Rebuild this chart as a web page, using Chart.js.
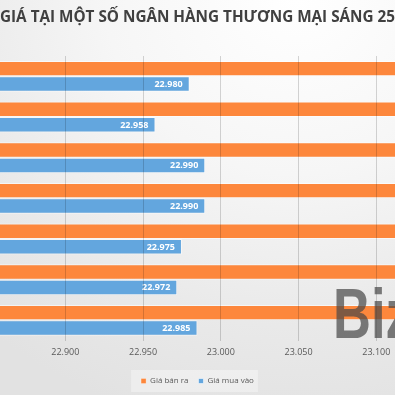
<!DOCTYPE html>
<html>
<head>
<meta charset="utf-8">
<script src="https://cdn.jsdelivr.net/npm/chart.js@4/dist/chart.umd.min.js"></script>
<style>
  html, body { margin: 0; padding: 0; }
  body {
    width: 395px; height: 395px; overflow: hidden; position: relative;
    background: radial-gradient(ellipse 120% 110% at 75% 0%, #ffffff 0%, #f6f6f6 40%, #e9e9e9 75%, #e2e2e2 100%);
  }
  #wrap { position: absolute; left: 0; top: 0; width: 395px; height: 395px; }
  #wm {
    position: absolute; left: 333px; top: 279px;
    font-family: "Liberation Sans", sans-serif;
    font-weight: bold; font-size: 70px; line-height: 70px;
    color: rgba(70, 70, 70, 0.70); white-space: nowrap; pointer-events: none;
    transform: scaleX(0.75); transform-origin: 0 0;
  }
</style>
</head>
<body>
<div id="wrap"><canvas id="c" width="395" height="395"></canvas></div>
<div id="wm">Biz</div>
<script>
// ---- data ----
const categories = ["NH 1", "NH 2", "NH 3", "NH 4", "NH 5", "NH 6", "NH 7"];
const seriesNames = ["Giá bán ra", "Giá mua vào"];
const sellValues = [23160, 23138, 23170, 23170, 23155, 23152, 23165];
const buyValues = [22980, 22958, 22990, 22990, 22975, 22972, 22985];
const titleText = "GIÁ TẠI MỘT SỐ NGÂN HÀNG THƯƠNG MẠI SÁNG 25";
const axisMin = 22858;
const axisMax = 23112;
const tickStep = 50;

const fmt = v => {
  const s = Math.round(v).toString();
  return s.replace(/\B(?=(\d{3})+(?!\d))/g, ".");
};

const ORANGE = "#fd873c";
const BLUE = "#63a6de";

const valueLabels = {
  id: "valueLabels",
  afterDatasetsDraw(chart) {
    const ctx = chart.ctx;
    ctx.save();
    ctx.font = "bold 9px 'Open Sans', sans-serif";
    ctx.fillStyle = "#ffffff";
    ctx.textAlign = "right";
    ctx.textBaseline = "middle";
    chart.data.datasets.forEach((ds, di) => {
      const meta = chart.getDatasetMeta(di);
      meta.data.forEach((bar, i) => {
        ctx.fillText(fmt(ds.data[i]), bar.x - 7, bar.y + 0.5);
      });
    });
    ctx.restore();
  }
};

const legendBg = {
  id: "legendBg",
  beforeDraw(chart) {
    const boxes = chart.legend && chart.legend.legendHitBoxes;
    if (!boxes || !boxes.length) return;
    let l = Infinity, r = -Infinity, t = Infinity, b = -Infinity;
    boxes.forEach(h => { l = Math.min(l, h.left); r = Math.max(r, h.left + h.width); t = Math.min(t, h.top); b = Math.max(b, h.top + h.height); });
    const ctx = chart.ctx;
    ctx.save();
    ctx.fillStyle = "rgba(255,255,255,0.35)";
    ctx.fillRect(l - 10, t - 7, (r - l) + 14, (b - t) + 14);
    ctx.restore();
  }
};

new Chart(document.getElementById("c"), {
  type: "bar",
  data: {
    labels: categories,
    datasets: [
      { label: seriesNames[0], data: sellValues, backgroundColor: ORANGE, borderColor: "rgba(255,255,255,0.55)", borderWidth: { top: 1, bottom: 1, left: 0, right: 0 }, borderSkipped: false },
      { label: seriesNames[1], data: buyValues, backgroundColor: BLUE, borderColor: "rgba(255,255,255,0.55)", borderWidth: 1, borderSkipped: "start" }
    ]
  },
  options: {
    indexAxis: "y",
    responsive: false,
    maintainAspectRatio: false,
    animation: false,
    layout: { padding: { left: 0, right: 0, top: 0, bottom: 0 } },
    datasets: { bar: { categoryPercentage: 0.76, barPercentage: 1.0 } },
    scales: {
      x: {
        type: "linear",
        min: axisMin,
        max: axisMax,
        border: { display: false },
        grid: { color: "rgba(0,0,0,0.16)", drawTicks: false, z: 1 },
        ticks: {
          stepSize: tickStep,
          includeBounds: false,
          padding: 6.5,
          color: "#595959",
          font: { family: "'Open Sans', sans-serif", size: 9 },
          callback: v => fmt(v)
        },
        afterFit(scale) {
          scale.height += 2.5;
          scale.paddingLeft = 0;
          scale.paddingRight = 0;
        }
      },
      y: { display: false }
    },
    plugins: {
      title: {
        display: true,
        text: titleText,
        align: "start",
        color: "#404040",
        font: { family: "'Open Sans', sans-serif", size: 16, weight: "bold" },
        padding: { top: 7.9, bottom: 28.9 }
      },
      legend: {
        position: "bottom",
        labels: {
          boxWidth: 5, boxHeight: 5, padding: 10,
          color: "#595959",
          font: { family: "'Open Sans', sans-serif", size: 8 }
        }
      },
      tooltip: { enabled: false }
    }
  },
  plugins: [legendBg, valueLabels]
});
</script>
</body>
</html>
